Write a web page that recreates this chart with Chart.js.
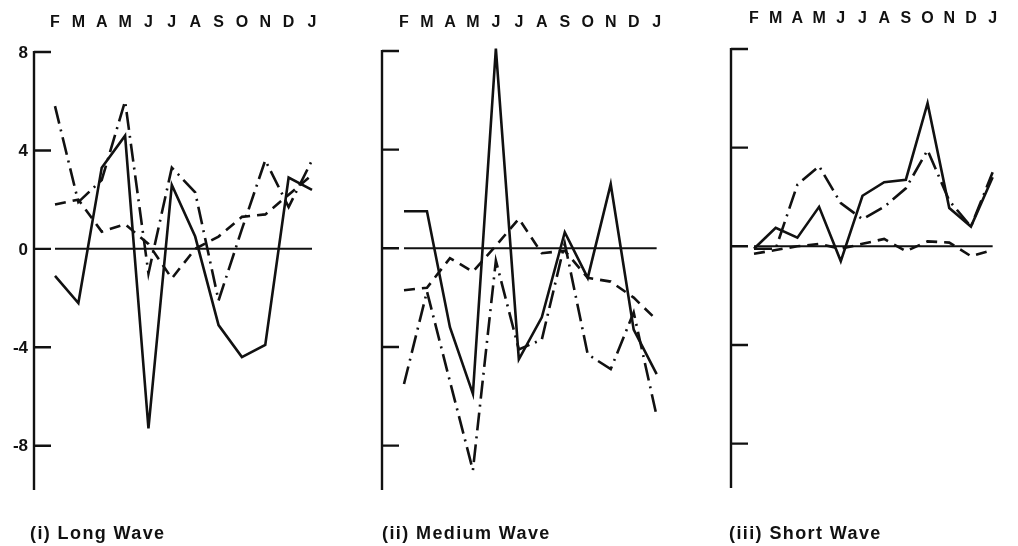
<!DOCTYPE html>
<html>
<head>
<meta charset="utf-8">
<script src="https://cdn.jsdelivr.net/npm/chart.js@4/dist/chart.umd.min.js"></script>
<style>
  html, body { margin: 0; padding: 0; background: #fff; }
  #wrap { position: relative; width: 1018px; height: 546px; overflow: hidden; background: #fff; }
  #wrap canvas { position: absolute; top: 0; }
</style>
</head>
<body>
<div id="wrap">
  <canvas id="longWave" width="340" height="546" style="left:0px"></canvas>
  <canvas id="mediumWave" width="340" height="546" style="left:340px"></canvas>
  <canvas id="shortWave" width="338" height="546" style="left:680px"></canvas>
</div>
<script>
// --- Data ---
const months = ['F', 'M', 'A', 'M', 'J', 'J', 'A', 'S', 'O', 'N', 'D', 'J'];
const yTicks = [8, 4, 0, -4, -8];
const yMin = -9.8;
const yMax = 8;

// Long wave
const longSolid   = [-1.1, -2.2, 3.3, 4.6, -7.3, 2.6, 0.5, -3.1, -4.4, -3.9, 2.9, 2.4];
const longDashed  = [1.8, 2.0, 0.7, 1.0, 0.2, -1.2, 0.0, 0.5, 1.3, 1.4, 2.2, 3.0];
const longDashDot = [5.8, 1.9, 2.8, 6.0, -1.0, 3.3, 2.3, -2.1, 0.8, 3.6, 1.7, 3.6];

// Medium wave
const medSolid   = [1.5, 1.5, -3.2, -5.9, 8.1, -4.5, -2.8, 0.65, -1.2, 2.6, -3.3, -5.1];
const medDashed  = [-1.7, -1.6, -0.4, -0.95, 0.1, 1.2, -0.2, -0.1, -1.2, -1.35, -2.0, -2.9];
const medDashDot = [-5.5, -1.75, -5.4, -9.0, -0.5, -4.1, -3.7, 0.2, -4.3, -4.9, -2.6, -6.8];

// Short wave
const shortSolid   = [-0.1, 0.75, 0.35, 1.6, -0.6, 2.05, 2.6, 2.7, 5.8, 1.55, 0.8, 2.8];
const shortDashed  = [-0.3, -0.15, 0.0, 0.1, -0.1, 0.1, 0.3, -0.2, 0.2, 0.15, -0.4, -0.15];
const shortDashDot = [-0.1, -0.1, 2.5, 3.25, 1.75, 1.1, 1.6, 2.35, 3.9, 1.85, 0.8, 3.0];

const INK = '#111';
const FONT = '"Liberation Sans", Arial, sans-serif';

// Left axis with inward ticks, zero line, tick labels and the panel caption
const panelFrame = {
    id: 'panelFrame',
    afterDatasetsDraw(chart, args, opts) {
        const { ctx, chartArea } = chart;
        const y = chart.scales.y;
        const axisX = chartArea.left - opts.axisGap;

        ctx.save();
        ctx.strokeStyle = INK;
        ctx.lineWidth = 2.4;
        ctx.beginPath();
        ctx.moveTo(axisX, y.getPixelForValue(yMax) - 1);
        ctx.lineTo(axisX, y.getPixelForValue(yMin));
        yTicks.forEach(v => {
            const py = y.getPixelForValue(v);
            ctx.moveTo(axisX, py);
            ctx.lineTo(axisX + 17, py);
        });
        ctx.stroke();

        // zero line across the months
        const zy = y.getPixelForValue(0);
        ctx.lineWidth = 2;
        ctx.beginPath();
        ctx.moveTo(chartArea.left, zy);
        ctx.lineTo(chartArea.right, zy);
        ctx.stroke();

        ctx.fillStyle = INK;
        if (opts.showLabels) {
            ctx.font = 'bold 17px ' + FONT;
            ctx.textAlign = 'right';
            ctx.textBaseline = 'middle';
            yTicks.forEach(v => ctx.fillText(String(v), axisX - 6, y.getPixelForValue(v) + 1));
        }

        ctx.font = 'bold 18px ' + FONT;
        ctx.letterSpacing = '1.4px';
        ctx.textAlign = 'left';
        ctx.textBaseline = 'alphabetic';
        ctx.fillText(opts.caption, opts.captionX, 539);
        ctx.restore();
    }
};

function makeSeries(solid, dashed, dashDot) {
    const base = { borderColor: INK, borderWidth: 2.6, pointRadius: 0, tension: 0, fill: false, clip: false };
    return [
        { ...base, label: 'solid', data: solid },
        { ...base, label: 'dashed', data: dashed, borderDash: [11, 7] },
        { ...base, label: 'dash-dot', data: dashDot, borderDash: [18, 6, 2, 6] }
    ];
}

function renderPanel(id, datasets, cfg) {
    const ctx = document.getElementById(id).getContext('2d');
    return new Chart(ctx, {
        type: 'line',
        data: { labels: months, datasets: datasets },
        options: {
            responsive: false,
            animation: false,
            devicePixelRatio: 1,
            layout: {
                padding: { left: cfg.left, right: cfg.right, top: 0, bottom: 546 - cfg.bottom }
            },
            plugins: {
                legend: { display: false },
                tooltip: { enabled: false },
                panelFrame: {
                    axisGap: cfg.axisGap,
                    showLabels: cfg.showLabels,
                    caption: cfg.caption,
                    captionX: cfg.captionX
                }
            },
            scales: {
                x: {
                    position: 'top',
                    offset: false,
                    grid: { display: false, drawTicks: false },
                    border: { display: false },
                    ticks: {
                        color: INK,
                        font: { family: FONT, size: 16, weight: 'bold' },
                        padding: cfg.top - cfg.labelY - 9.6,
                        maxRotation: 0,
                        autoSkip: false
                    },
                    afterFit(scale) { scale.height = cfg.top; }
                },
                y: {
                    display: false,
                    min: yMin,
                    max: yMax
                }
            }
        },
        plugins: [panelFrame]
    });
}

renderPanel('longWave', makeSeries(longSolid, longDashed, longDashDot), {
    left: 55, right: 28, top: 52, bottom: 490, labelY: 23, axisGap: 21,
    showLabels: true, caption: '(i) Long Wave', captionX: 30
});
renderPanel('mediumWave', makeSeries(medSolid, medDashed, medDashDot), {
    left: 64, right: 17, top: 51, bottom: 490, labelY: 22.5, axisGap: 22,
    showLabels: false, caption: '(ii) Medium Wave', captionX: 42
});
renderPanel('shortWave', makeSeries(shortSolid, shortDashed, shortDashDot), {
    left: 74, right: 6, top: 49, bottom: 488, labelY: 18.5, axisGap: 23,
    showLabels: false, caption: '(iii) Short Wave', captionX: 49
});
</script>
</body>
</html>
